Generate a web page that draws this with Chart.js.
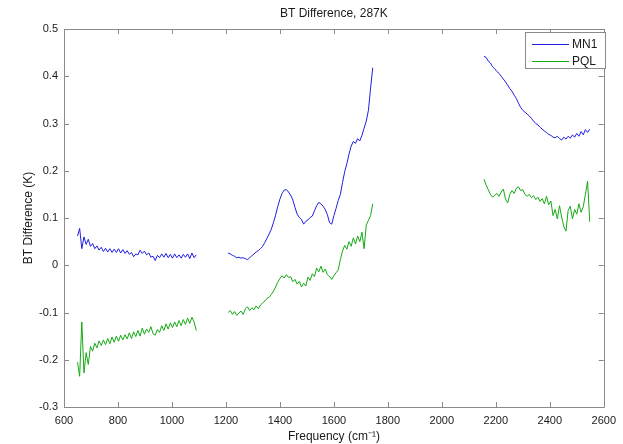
<!DOCTYPE html>
<html>
<head>
<meta charset="utf-8">
<script src="https://cdn.jsdelivr.net/npm/chart.js@4.4.0/dist/chart.umd.min.js"></script>
<style>
  html, body { margin: 0; padding: 0; background: #fff; }
  #wrap { width: 623px; height: 444px; }
</style>
</head>
<body>
<div id="wrap"><canvas id="btChart" width="623" height="444"></canvas></div>
<script>
// frequency grids (cm-1) of the three spectral bands
const freqA = [650, 658, 666, 674, 682, 690, 698, 706, 714, 722, 730, 738, 746, 754, 762, 770, 778, 786, 794, 802,
  810, 818, 826, 834, 842, 850, 858, 866, 874, 882, 890, 898, 906, 914, 922, 930, 938, 946, 954, 962,
  970, 978, 986, 994, 1002, 1010, 1018, 1026, 1034, 1042, 1050, 1058, 1066, 1074, 1082, 1090];
const freqB = [1208, 1216, 1224, 1232, 1240, 1248, 1256, 1264, 1272, 1280, 1288, 1296, 1304, 1312, 1320, 1328, 1336,
  1344, 1352, 1360, 1368, 1376, 1384, 1392, 1400, 1408, 1416, 1424, 1432, 1440, 1448, 1456, 1464, 1472,
  1480, 1488, 1496, 1504, 1512, 1520, 1528, 1536, 1544, 1552, 1560, 1568, 1576, 1584, 1592, 1600, 1608,
  1616, 1624, 1632, 1640, 1648, 1656, 1664, 1672, 1680, 1688, 1696, 1704, 1712, 1720, 1728, 1736, 1744];
const freqC = [2156, 2164, 2172, 2180, 2188, 2196, 2204, 2212, 2220, 2228, 2236, 2244, 2252, 2260, 2268, 2276, 2284,
  2292, 2300, 2308, 2316, 2324, 2332, 2340, 2348, 2356, 2364, 2372, 2380, 2388, 2396, 2404, 2412, 2420,
  2428, 2436, 2444, 2452, 2460, 2468, 2476, 2484, 2492, 2500, 2508, 2516, 2524, 2532, 2540, 2548];

// MN1 brightness temperature difference (K)
const mn1A = [0.062, 0.078, 0.035, 0.060, 0.044, 0.055, 0.040, 0.046, 0.035, 0.041, 0.032, 0.038, 0.029, 0.036,
  0.028, 0.035, 0.027, 0.034, 0.027, 0.035, 0.026, 0.033, 0.025, 0.031, 0.023, 0.027, 0.018, 0.024, 0.022,
  0.032, 0.025, 0.030, 0.022, 0.026, 0.017, 0.019, 0.010, 0.021, 0.016, 0.024, 0.017, 0.025, 0.016, 0.023,
  0.015, 0.024, 0.016, 0.022, 0.015, 0.023, 0.017, 0.024, 0.014, 0.026, 0.016, 0.022];
const mn1B = [0.026, 0.024, 0.021, 0.019, 0.016, 0.017, 0.015, 0.016, 0.014, 0.012, 0.016, 0.020, 0.024, 0.028,
  0.031, 0.035, 0.040, 0.048, 0.057, 0.066, 0.076, 0.090, 0.106, 0.124, 0.140, 0.152, 0.159, 0.160, 0.155,
  0.148, 0.138, 0.122, 0.108, 0.101, 0.097, 0.087, 0.093, 0.096, 0.101, 0.104, 0.115, 0.126, 0.133, 0.130,
  0.125, 0.118, 0.107, 0.090, 0.087, 0.105, 0.120, 0.137, 0.150, 0.175, 0.198, 0.215, 0.235, 0.252, 0.262,
  0.258, 0.268, 0.263, 0.275, 0.290, 0.305, 0.328, 0.375, 0.418];
const mn1C = [0.442, 0.440, 0.432, 0.428, 0.420, 0.416, 0.410, 0.406, 0.400, 0.394, 0.388, 0.381, 0.374, 0.368,
  0.360, 0.353, 0.343, 0.334, 0.328, 0.324, 0.320, 0.316, 0.311, 0.305, 0.300, 0.297, 0.292, 0.288, 0.284,
  0.281, 0.277, 0.275, 0.271, 0.270, 0.273, 0.268, 0.265, 0.271, 0.267, 0.273, 0.269, 0.276, 0.271, 0.279,
  0.273, 0.283, 0.276, 0.287, 0.281, 0.288];

// PQL brightness temperature difference (K)
const pqlA = [-0.205, -0.235, -0.120, -0.228, -0.185, -0.210, -0.172, -0.182, -0.165, -0.175, -0.160, -0.170,
  -0.158, -0.168, -0.155, -0.166, -0.152, -0.163, -0.150, -0.161, -0.148, -0.158, -0.147, -0.156, -0.143,
  -0.155, -0.141, -0.151, -0.138, -0.150, -0.133, -0.146, -0.135, -0.142, -0.130, -0.145, -0.148, -0.136,
  -0.142, -0.128, -0.138, -0.124, -0.135, -0.122, -0.132, -0.120, -0.130, -0.117, -0.128, -0.115, -0.125,
  -0.112, -0.123, -0.110, -0.120, -0.138];
const pqlB = [-0.100, -0.096, -0.104, -0.098, -0.106, -0.101, -0.097, -0.104, -0.092, -0.088, -0.096, -0.090,
  -0.094, -0.086, -0.092, -0.084, -0.080, -0.076, -0.070, -0.068, -0.062, -0.055, -0.046, -0.036, -0.028,
  -0.022, -0.027, -0.020, -0.026, -0.024, -0.035, -0.030, -0.040, -0.034, -0.046, -0.038, -0.044, -0.025,
  -0.032, -0.018, -0.024, -0.006, -0.014, -0.002, -0.015, -0.008, -0.020, -0.024, -0.030, -0.022, -0.016,
  -0.010, 0.012, 0.030, 0.042, 0.034, 0.050, 0.040, 0.058, 0.045, 0.062, 0.050, 0.070, 0.035, 0.085, 0.095,
  0.105, 0.130];
const pqlC = [0.182, 0.170, 0.160, 0.150, 0.144, 0.148, 0.152, 0.146, 0.155, 0.161, 0.140, 0.132, 0.150, 0.158,
  0.152, 0.163, 0.166, 0.158, 0.160, 0.150, 0.146, 0.150, 0.143, 0.147, 0.139, 0.144, 0.135, 0.141, 0.130,
  0.146, 0.128, 0.136, 0.105, 0.118, 0.098, 0.126, 0.102, 0.082, 0.072, 0.116, 0.125, 0.098, 0.118, 0.108,
  0.130, 0.112, 0.124, 0.150, 0.178, 0.092];

const xTicks = [600, 800, 1000, 1200, 1400, 1600, 1800, 2000, 2200, 2400, 2600];
const yTicks = [-0.3, -0.2, -0.1, 0, 0.1, 0.2, 0.3, 0.4, 0.5];

const AXIS_COLOR = "#8a8a8a";
const TEXT_COLOR = "#1a1a1a";
const FONT = "'Liberation Sans', Arial, sans-serif";

// join the bands, with a null point between them so the line breaks
function bands(freqs, values) {
  const pts = [];
  freqs.forEach(function (f, b) {
    if (b > 0) pts.push({ x: (freqs[b - 1][freqs[b - 1].length - 1] + f[0]) / 2, y: null });
    f.forEach(function (x, i) { pts.push({ x: x, y: values[b][i] }); });
  });
  return pts;
}

// frame with inward ticks on all four sides, title and boxed legend
const framePlugin = {
  id: "frame",
  afterDraw: function (chart) {
    const ctx = chart.ctx;
    const a = chart.chartArea;
    const xs = chart.scales.x;
    const ys = chart.scales.y;
    ctx.save();
    ctx.strokeStyle = AXIS_COLOR;
    ctx.lineWidth = 1;
    ctx.beginPath();
    ctx.rect(Math.round(a.left) + 0.5, Math.round(a.top) + 0.5, Math.round(a.right - a.left), Math.round(a.bottom - a.top));
    xTicks.forEach(function (t) {
      const px = Math.round(xs.getPixelForValue(t)) + 0.5;
      ctx.moveTo(px, a.bottom); ctx.lineTo(px, a.bottom - 5);
      ctx.moveTo(px, a.top); ctx.lineTo(px, a.top + 5);
    });
    yTicks.forEach(function (t) {
      const py = Math.round(ys.getPixelForValue(t)) + 0.5;
      ctx.moveTo(a.left, py); ctx.lineTo(a.left + 5, py);
      ctx.moveTo(a.right, py); ctx.lineTo(a.right - 5, py);
    });
    ctx.stroke();

    // title
    ctx.fillStyle = TEXT_COLOR;
    ctx.font = "12px " + FONT;
    ctx.textAlign = "center";
    ctx.textBaseline = "middle";
    ctx.fillText("BT Difference, 287K", (a.left + a.right) / 2, 14);

    // legend
    const lx = 525, ly = 32, lw = 80, lh = 36;
    ctx.fillStyle = "#fff";
    ctx.fillRect(lx, ly, lw, lh);
    ctx.strokeStyle = AXIS_COLOR;
    ctx.strokeRect(lx + 0.5, ly + 0.5, lw, lh);
    ctx.font = "12px " + FONT;
    ctx.textAlign = "left";
    chart.data.datasets.forEach(function (ds, i) {
      const cy = ly + 12 + i * 17;
      ctx.strokeStyle = ds.borderColor;
      ctx.beginPath();
      ctx.moveTo(lx + 7, cy + 0.5);
      ctx.lineTo(lx + 44, cy + 0.5);
      ctx.stroke();
      ctx.fillStyle = TEXT_COLOR;
      ctx.fillText(ds.label, lx + 47, cy + 1);
    });
    ctx.restore();
  }
};

const ctx = document.getElementById("btChart").getContext("2d");
new Chart(ctx, {
  type: "line",
  data: {
    datasets: [
      {
        label: "MN1",
        data: bands([freqA, freqB, freqC], [mn1A, mn1B, mn1C]),
        borderColor: "rgb(30, 30, 225)",
        borderWidth: 1,
        pointRadius: 0,
        tension: 0,
        spanGaps: false
      },
      {
        label: "PQL",
        data: bands([freqA, freqB, freqC], [pqlA, pqlB, pqlC]),
        borderColor: "rgb(20, 170, 20)",
        borderWidth: 1,
        pointRadius: 0,
        tension: 0,
        spanGaps: false
      }
    ]
  },
  options: {
    responsive: false,
    animation: false,
    layout: { padding: { left: 0, top: 29, right: 14, bottom: 0 } },
    plugins: {
      legend: { display: false },
      tooltip: { enabled: false },
      title: { display: false }
    },
    scales: {
      x: {
        type: "linear",
        min: 600,
        max: 2600,
        afterFit: function (scale) { scale.height = 37; },
        afterBuildTicks: function (scale) { scale.ticks = xTicks.map(function (v) { return { value: v }; }); },
        grid: { display: false, drawTicks: false },
        border: { display: false },
        ticks: {
          autoSkip: false,
          maxRotation: 0,
          padding: 7,
          color: TEXT_COLOR,
          font: { family: FONT, size: 11 },
          callback: function (v) { return String(v); }
        },
        title: {
          display: true,
          text: "Frequency (cm⁻¹)",
          color: TEXT_COLOR,
          font: { family: FONT, size: 12 },
          padding: { top: 0, bottom: 0 }
        }
      },
      y: {
        min: -0.3,
        max: 0.5,
        afterFit: function (scale) { scale.width = 64; },
        afterBuildTicks: function (scale) { scale.ticks = yTicks.map(function (v) { return { value: v }; }); },
        grid: { display: false, drawTicks: false },
        border: { display: false },
        ticks: {
          padding: 6,
          color: TEXT_COLOR,
          font: { family: FONT, size: 11 },
          callback: function (v) { return String(Math.round(v * 10) / 10); }
        },
        title: {
          display: true,
          text: "BT Difference (K)",
          color: TEXT_COLOR,
          font: { family: FONT, size: 12 },
          padding: { top: 21, bottom: 0 }
        }
      }
    }
  },
  plugins: [framePlugin]
});
</script>
</body>
</html>
